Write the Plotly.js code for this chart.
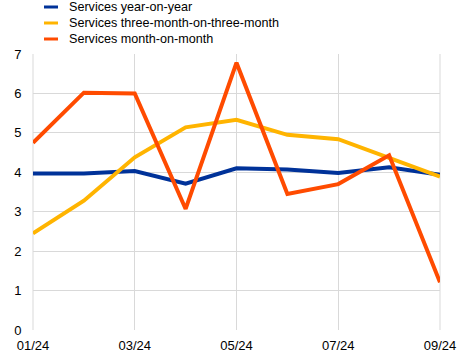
<!DOCTYPE html>
<html>
<head>
<meta charset="utf-8">
<script src="https://cdn.plot.ly/plotly-3.0.1.min.js"></script>
<style>html,body{margin:0;padding:0;background:#fff;}#chart{width:473px;height:355px;}</style>
</head>
<body>
<div id="chart"></div>
<script>
const months = ['01/24','02/24','03/24','04/24','05/24','06/24','07/24','08/24','09/24'];
const tickLabels = ['01/24','03/24','05/24','07/24','09/24'];
const yoy = [3.97, 3.97, 4.03, 3.71, 4.10, 4.07, 3.98, 4.13, 3.94];
const threeMonth = [2.45, 3.28, 4.38, 5.14, 5.33, 4.95, 4.84, 4.37, 3.89];
const monthOnMonth = [4.75, 6.02, 6.00, 3.07, 6.78, 3.45, 3.70, 4.43, 1.21];

const names = ['Services year-on-year','Services three-month-on-three-month','Services month-on-month'];
const colors = ['#003299','#FFB400','#FF4B00'];
const series = [yoy, threeMonth, monthOnMonth];

const W = 473, H = 355;
const traces = series.map((vals, i) => ({
  x: months, y: vals, type: 'scatter', mode: 'lines', name: names[i],
  line: {color: colors[i], width: 4}, showlegend: false
}));

// Legend drawn as key swatches + text (container pixel positions converted to paper)
const legendRows = [7, 23, 39];
const shapes = [
  {type: 'line', xref: 'paper', yref: 'paper', x0: 0, x1: 0, y0: 0, y1: 1, line: {color: '#d9d9d9', width: 1}, layer: 'below'},
  {type: 'line', xref: 'paper', yref: 'paper', x0: 1, x1: 1, y0: 0, y1: 1, line: {color: '#d9d9d9', width: 1}, layer: 'below'}
];
const annotations = [];
const m = {l: 33, r: 33, t: 54, b: 25};
const pw = W - m.l - m.r, ph = H - m.t - m.b;
const px = x => (x - m.l) / pw;
const py = y => (H - m.b - y) / ph;
names.forEach((n, i) => {
  const yy = py(legendRows[i]);
  shapes.push({type: 'line', xref: 'paper', yref: 'paper', x0: px(44), x1: px(58), y0: yy, y1: yy,
               line: {color: colors[i], width: 3}});
  annotations.push({xref: 'paper', yref: 'paper', x: px(67), y: yy, xanchor: 'left', yanchor: 'middle',
                    text: n, showarrow: false, font: {size: 12.6, color: '#000'}});
});

const layout = {
  width: W, height: H,
  margin: m,
  paper_bgcolor: '#fff', plot_bgcolor: '#fff',
  font: {family: 'Liberation Sans, Arial, sans-serif', size: 13, color: '#000'},
  showlegend: false,
  xaxis: {type: 'category', range: [0, 8], tickmode: 'array', tickvals: tickLabels, ticktext: tickLabels,
          showgrid: true, gridcolor: '#d9d9d9', gridwidth: 1, zeroline: false, showline: false,
          ticks: '', tickfont: {size: 13}, ticklabelstandoff: 6},
  yaxis: {range: [0, 7], dtick: 1, showgrid: true, gridcolor: '#d9d9d9', gridwidth: 1,
          zeroline: false, showline: false, ticks: 'outside', ticklen: 8, tickcolor: 'rgba(0,0,0,0)', tickfont: {size: 13}},
  shapes: shapes,
  annotations: annotations
};
Plotly.newPlot('chart', traces, layout, {displayModeBar: false, staticPlot: true});
</script>
</body>
</html>
